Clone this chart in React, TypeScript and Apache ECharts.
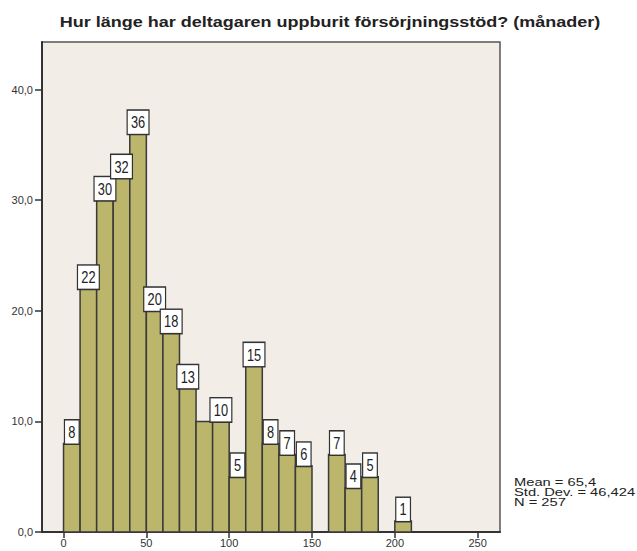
import React, { useEffect, useRef } from 'react';
import * as echarts from 'echarts';

const titleText = 'Hur länge har deltagaren uppburit försörjningsstöd? (månader)';
const binStarts = [0, 10, 20, 30, 40, 50, 60, 70, 80, 90, 100, 110, 120, 130, 140, 150, 160, 170, 180, 190, 200];
const binWidth = 10;
const counts = [8, 22, 30, 32, 36, 20, 18, 13, 10, 10, 5, 15, 8, 7, 6, 0, 7, 4, 5, 0, 1];
const hiddenLabelBins = [80];
const yTicks = [0, 10, 20, 30, 40];
const xTicks = [0, 50, 100, 150, 200, 250];
const statsLines = ['Mean = 65,4', 'Std. Dev. = 46,424', 'N = 257'];

export default function App() {
  const ref = useRef<HTMLDivElement>(null);
  useEffect(() => {
    if (!ref.current) return;
    const chart = echarts.init(ref.current, null, { renderer: 'svg' });
    const data = binStarts.map((s, i) => [s, s + binWidth, counts[i]]);
    const option: any = {
      animation: false,
      backgroundColor: '#ffffff',
      grid: {
        left: 42,
        right: 137,
        top: 42,
        bottom: 19,
        show: true,
        backgroundColor: '#f2ede6',
        borderColor: '#555',
        borderWidth: 1.5,
      },
      xAxis: {
        type: 'value',
        min: -13,
        max: 263.5,
        axisLine: { show: true, onZero: false, lineStyle: { color: '#333', width: 2 } },
        axisTick: { show: true, customValues: xTicks, length: 6, lineStyle: { color: '#333', width: 1.5 } },
        axisLabel: {
          customValues: xTicks,
          formatter: (v: number) => String(v),
          fontSize: 11,
          color: '#333',
          margin: 5,
          fontFamily: 'Arial, Liberation Sans, sans-serif',
        },
        splitLine: { show: false },
      },
      yAxis: {
        type: 'value',
        min: 0,
        max: 44.3,
        axisLine: { show: true, onZero: false, lineStyle: { color: '#333', width: 2 } },
        axisTick: { show: true, customValues: yTicks, length: 7, lineStyle: { color: '#333', width: 1.5 } },
        axisLabel: {
          customValues: yTicks,
          formatter: (v: number) => v.toFixed(1).replace('.', ','),
          fontSize: 11,
          color: '#333',
          margin: 9,
          fontFamily: 'Arial, Liberation Sans, sans-serif',
        },
        splitLine: { show: false },
      },
      series: [
        {
          type: 'custom',
          data,
          encode: { x: [0, 1], y: 2 },
          renderItem: (params: any, api: any) => {
            const c = api.value(2);
            if (!c) return null;
            const p0 = api.coord([api.value(0), 0]);
            const p1 = api.coord([api.value(1), c]);
            const children: any[] = [
              {
                type: 'rect',
                shape: { x: p0[0], y: p1[1], width: p1[0] - p0[0], height: p0[1] - p1[1] },
                style: { fill: '#bcb66c', stroke: '#3a3a3a', lineWidth: 1.5 },
              },
            ];
            if (!hiddenLabelBins.includes(api.value(0))) {
              children.push({
                type: 'text',
                x: (p0[0] + p1[0]) / 2,
                y: p1[1],
                scaleX: 0.8,
                z2: 10,
                style: {
                  text: String(c),
                  fontFamily: 'Arial, Liberation Sans, sans-serif',
                  fontSize: 16,
                  fill: '#222',
                  align: 'center',
                  verticalAlign: 'bottom',
                  backgroundColor: '#ffffff',
                  borderColor: '#333',
                  borderWidth: 1.5,
                  padding: [4, 4, 3, 4],
                },
              });
            }
            return { type: 'group', children };
          },
        },
      ],
      graphic: [
        {
          type: 'text',
          x: 330,
          y: 15,
          scaleX: 1.2,
          style: {
            text: titleText,
            fontFamily: 'Arial, Liberation Sans, sans-serif',
            fontWeight: 'bold',
            fontSize: 15,
            fill: '#222',
            align: 'center',
            verticalAlign: 'top',
          },
        },
        {
          type: 'text',
          x: 514,
          y: 477,
          scaleX: 1.28,
          style: {
            text: statsLines.join('\n'),
            fontFamily: 'Arial, Liberation Sans, sans-serif',
            fontSize: 11.5,
            lineHeight: 10,
            fill: '#222',
          },
        },
      ],
    };
    chart.setOption(option);
    return () => chart.dispose();
  }, []);
  return <div ref={ref} style={{ position: 'fixed', left: 0, top: 0, width: 637, height: 551 }} />;
}
